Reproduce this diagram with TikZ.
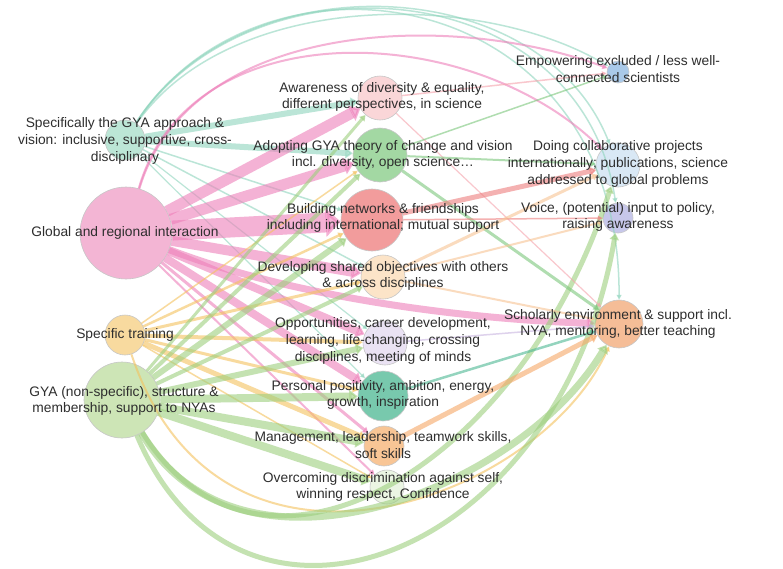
\documentclass[tikz,border=0pt]{standalone}
\usepackage{fontspec}
\setmainfont{Liberation Sans}
\usetikzlibrary{arrows.meta}
\definecolor{cS}{HTML}{BCE6D6}
\definecolor{cG}{HTML}{F3B5D4}
\definecolor{cT}{HTML}{F8DA9F}
\definecolor{cN}{HTML}{CDE5B6}
\definecolor{cA1}{HTML}{FAD6D8}
\definecolor{cA2}{HTML}{A3D8A3}
\definecolor{cA3}{HTML}{F29C9C}
\definecolor{cA4}{HTML}{FCE4C8}
\definecolor{cA5}{HTML}{EAE2F3}
\definecolor{cA6}{HTML}{78C9AD}
\definecolor{cA7}{HTML}{F8C595}
\definecolor{cA8}{HTML}{EBF5E3}
\definecolor{cR1}{HTML}{A9C9E9}
\definecolor{cR2}{HTML}{D9E8F5}
\definecolor{cR3}{HTML}{C7C7EA}
\definecolor{cR4}{HTML}{F5BD97}
\definecolor{eS}{HTML}{8FD5BD}
\definecolor{eG}{HTML}{EE7FB9}
\definecolor{eT}{HTML}{F4C25E}
\definecolor{eN}{HTML}{9DCF7E}
\definecolor{eA1}{HTML}{F5A3AC}
\definecolor{eA2}{HTML}{7CC77C}
\definecolor{eA3}{HTML}{EE7E7E}
\definecolor{eA4}{HTML}{F8C493}
\definecolor{eA5}{HTML}{C8B4E0}
\definecolor{eA6}{HTML}{4DB893}
\definecolor{eA7}{HTML}{F6A766}
\begin{document}
\begin{tikzpicture}[x=1pt,y=-1pt,
  circ/.style={circle, draw=black!22, line width=0.6pt, inner sep=0pt, minimum size=#1},
  lbl/.style={align=center, font=\fontsize{13.8}{16.6}\selectfont, text=black!82, inner sep=0pt},
  fl/.style={line width=#1pt, -{Triangle[length=4pt 0.55, width=3pt 1.25]}, opacity=0.6}]
\fill[white] (0,0) rectangle (783,568);
\useasboundingbox (0,0) rectangle (783,568);
% nodes
\node[circ=40, fill=cS] (S) at (125,140) {};
\node[circ=92, fill=cG] (G) at (126,233) {};
\node[circ=40, fill=cT] (T) at (125,335) {};
\node[circ=76, fill=cN] (N) at (122,400) {};
\node[circ=44, fill=cA1] (A1) at (380,98) {};
\node[circ=54, fill=cA2] (A2) at (380,155) {};
\node[circ=62, fill=cA3] (A3) at (372,220) {};
\node[circ=44, fill=cA4] (A4) at (383,277) {};
\node[circ=44, fill=cA5] (A5) at (385,343) {};
\node[circ=50, fill=cA6] (A6) at (383,396) {};
\node[circ=40, fill=cA7] (A7) at (384,446) {};
\node[circ=34, fill=cA8] (A8) at (387,487) {};
\node[circ=22, fill=cR1] (R1) at (618,72) {};
\node[circ=44, fill=cR2] (R2) at (618,165) {};
\node[circ=30, fill=cR3] (R3) at (618,218) {};
\node[circ=48, fill=cR4] (R4) at (619,324) {};
% teal source
\draw[fl=6, eS] (S) to (A1);
\draw[fl=6, eS] (S) to (A2);
\draw[fl=1.5, eS] (S) to (A3);
\draw[fl=1.5, eS] (S) to (A4);
\draw[fl=1.2, eS] (S) to (A5);
\draw[fl=1.2, eS] (S) to (A6);
\draw[fl=1.5, eS] (S) .. controls (230,-10) and (480,-10) .. (R1);
\draw[fl=1.5, eS] (S) .. controls (240,-40) and (540,-30) .. (R2);
\draw[fl=1.5, eS] (S) .. controls (250,-50) and (580,-30) .. (R3);
\draw[fl=1.5, eS] (S) .. controls (260,-70) and (620,-20) .. (R4);
% pink source
\draw[fl=11, eG] (G) to (A1);
\draw[fl=11, eG] (G) to (A2);
\draw[fl=20, eG] (G) to (A3);
\draw[fl=10, eG] (G) to (A4);
\draw[fl=8, eG] (G) to (A5);
\draw[fl=8, eG] (G) to (A6);
\draw[fl=3, eG] (G) to (A7);
\draw[fl=2, eG] (G) to (A8);
\draw[fl=2, eG] (G) .. controls (190,20) and (450,10) .. (R1);
\draw[fl=2, eG] (G) .. controls (190,10) and (470,20) .. (R2);
\draw[fl=7, eG] (G) .. controls (300,300) and (480,320) .. (R4);
% yellow source
\draw[fl=1.5, eT] (T) to (A2);
\draw[fl=2.5, eT] (T) to (A3);
\draw[fl=3, eT] (T) to (A4);
\draw[fl=4, eT] (T) to (A5);
\draw[fl=3, eT] (T) to (A6);
\draw[fl=5, eT] (T) to (A7);
\draw[fl=1.5, eT] (T) to (A8);
\draw[fl=2, eT] (T) .. controls (220,620) and (540,500) .. (R4);
% green source
\draw[fl=3, eN] (N) to (A1);
\draw[fl=4, eN] (N) to (A2);
\draw[fl=6, eN] (N) to (A3);
\draw[fl=4, eN] (N) to (A4);
\draw[fl=6, eN] (N) to (A5);
\draw[fl=8, eN] (N) to (A6);
\draw[fl=8, eN] (N) to (A7);
\draw[fl=8, eN] (N) to (A8);
\draw[fl=7, eN] (N) .. controls (240,600) and (520,490) .. (R4);
\draw[fl=5, eN] (N) .. controls (240,680) and (560,560) .. (R3);
\draw[fl=5, eN] (N) .. controls (260,620) and (520,470) .. (R2);
% middle to right
\draw[fl=1.5, eA1] (A1) to (R1);
\draw[fl=1.2, eA1] (A1) to (R4);
\draw[fl=1.5, eA2] (A2) to (R1);
\draw[fl=2, eA2] (A2) to (R2);
\draw[fl=3, eA2] (A2) to (R4);
\draw[fl=5, eA3] (A3) to (R2);
\draw[fl=1.5, eA3] (A3) to (R3);
\draw[fl=3, eA4] (A4) to (R2);
\draw[fl=2, eA4] (A4) to (R3);
\draw[fl=2, eA4] (A4) to (R4);
\draw[fl=1.5, eA5] (A5) to (R4);
\draw[fl=2.5, eA6] (A6) to (R4);
\draw[fl=5, eA7] (A7) to (R4);
% labels
\node[lbl] (lS) at (125,141) {Specifically the GYA approach \&\\vision: inclusive, supportive, cross-\\disciplinary};
\node[lbl] (lG) at (125,233) {Global and regional interaction};
\node[lbl] (lT) at (125,335) {Specific training};
\node[lbl] (lN) at (124,401) {GYA (non-specific), structure \&\\membership, support to NYAs};
\node[lbl] (lA1) at (382,97) {Awareness of diversity \& equality,\\different perspectives, in science};
\node[lbl] (lA2) at (383,155) {Adopting GYA theory of change and vision\\incl. diversity, open science…};
\node[lbl] (lA3) at (383,218) {Building networks \& friendships\\including international; mutual support};
\node[lbl] (lA4) at (383,276) {Developing shared objectives with others\\\& across disciplines};
\node[lbl] (lA5) at (383,341) {Opportunities, career development,\\learning, life-changing, crossing\\disciplines, meeting of minds};
\node[lbl] (lA6) at (383,395) {Personal positivity, ambition, energy,\\growth, inspiration};
\node[lbl] (lA7) at (383,445) {Management, leadership, teamwork skills,\\soft skills};
\node[lbl] (lA8) at (383,487) {Overcoming discrimination against self,\\winning respect, Confidence};
\node[lbl] (lR1) at (618,69) {Empowering excluded / less well-\\connected scientists};
\node[lbl] (lR2) at (618,164) {Doing collaborative projects\\internationally; publications, science\\addressed to global problems};
\node[lbl] (lR3) at (618,217) {Voice, (potential) input to policy,\\raising awareness};
\node[lbl] (lR4) at (618,324) {Scholarly environment \& support incl.\\NYA, mentoring, better teaching};
\end{tikzpicture}
\end{document}
